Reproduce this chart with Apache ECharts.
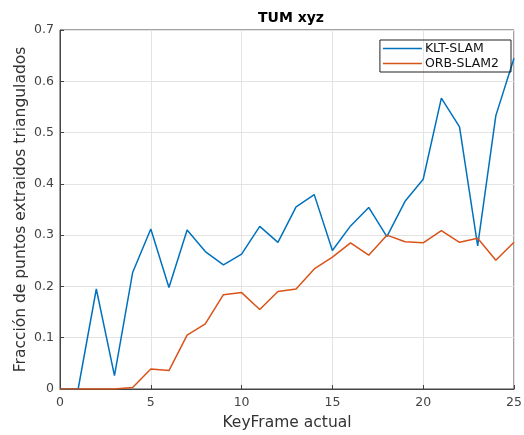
<!DOCTYPE html>
<html><head><meta charset="utf-8">
<script src="https://cdn.jsdelivr.net/npm/echarts@6/dist/echarts.min.js"></script>
<style>html,body{margin:0;padding:0;background:#fff}#c{width:524px;height:435px}</style>
</head><body><div id="c"></div>
<script>
const keyframes = [0,1,2,3,4,5,6,7,8,9,10,11,12,13,14,15,16,17,18,19,20,21,22,23,24,25];
const kltSlam = [0,0,0.195,0.026,0.227,0.312,0.198,0.31,0.268,0.242,0.263,0.317,0.286,0.355,0.379,0.27,0.318,0.354,0.297,0.366,0.409,0.567,0.511,0.279,0.533,0.645];
const orbSlam2 = [0,0,0,0,0.003,0.039,0.036,0.105,0.127,0.184,0.188,0.155,0.19,0.195,0.234,0.257,0.285,0.261,0.3,0.287,0.285,0.309,0.286,0.294,0.251,0.286];
const seriesNames = ['KLT-SLAM','ORB-SLAM2'];
const titleText = 'TUM xyz';
const xName = 'KeyFrame actual';
const yName = 'Fracción de puntos extraidos triangulados';

const chart = echarts.init(document.getElementById('c'), null, {renderer:'canvas'});
const font = 'DejaVu Sans';
const pairs = a => keyframes.map((k,i)=>[k,a[i]]);
chart.setOption({
  animation:false,
  backgroundColor:'#fff',
  title:{text:titleText,left:286,top:6,textAlign:'center',textStyle:{fontFamily:font,fontSize:14,fontWeight:'bold',color:'#000'}},
  grid:{left:60,right:10,top:30,bottom:46,outerBoundsMode:'none',containLabel:false,show:true,borderColor:'#444',borderWidth:1,backgroundColor:'transparent'},
  legend:{orient:'vertical',right:13,top:40,data:seriesNames,borderColor:'#222',borderWidth:1,padding:[2,12,2,3],itemGap:2,
    itemWidth:39,itemHeight:1.5,icon:'rect',textStyle:{fontFamily:font,fontSize:12.5,color:'#111',padding:[0,0,0,-2]}},
  xAxis:{type:'value',min:0,max:25,interval:5,name:xName,nameLocation:'middle',nameGap:26,nameMoveOverlap:false,
    nameTextStyle:{fontFamily:font,fontSize:15.5,color:'#333'},
    axisLine:{show:true,lineStyle:{color:'#444'}},axisTick:{show:true,inside:true,length:4,lineStyle:{color:'#444'}},
    axisLabel:{fontFamily:font,fontSize:12.5,color:'#444',margin:7},
    splitLine:{show:true,lineStyle:{color:'#e3e3e3'}}},
  yAxis:{type:'value',min:0,max:0.7,interval:0.1,name:yName,nameLocation:'middle',nameGap:31,nameMoveOverlap:false,
    nameTextStyle:{fontFamily:font,fontSize:15.5,color:'#333'},
    axisLine:{show:true,lineStyle:{color:'#444'}},axisTick:{show:true,inside:true,length:4,lineStyle:{color:'#444'}},
    axisLabel:{fontFamily:font,fontSize:12.5,color:'#444',margin:6,formatter:v=>v===0?'0':String(+v.toFixed(1))},
    splitLine:{show:true,lineStyle:{color:'#e3e3e3'}}},
  series:[
    {name:seriesNames[0],type:'line',data:pairs(kltSlam),symbol:'none',lineStyle:{color:'#0072BD',width:1.5},itemStyle:{color:'#0072BD'}},
    {name:seriesNames[1],type:'line',data:pairs(orbSlam2),symbol:'none',lineStyle:{color:'#D95319',width:1.5},itemStyle:{color:'#D95319'}}
  ]
});
</script></body></html>
